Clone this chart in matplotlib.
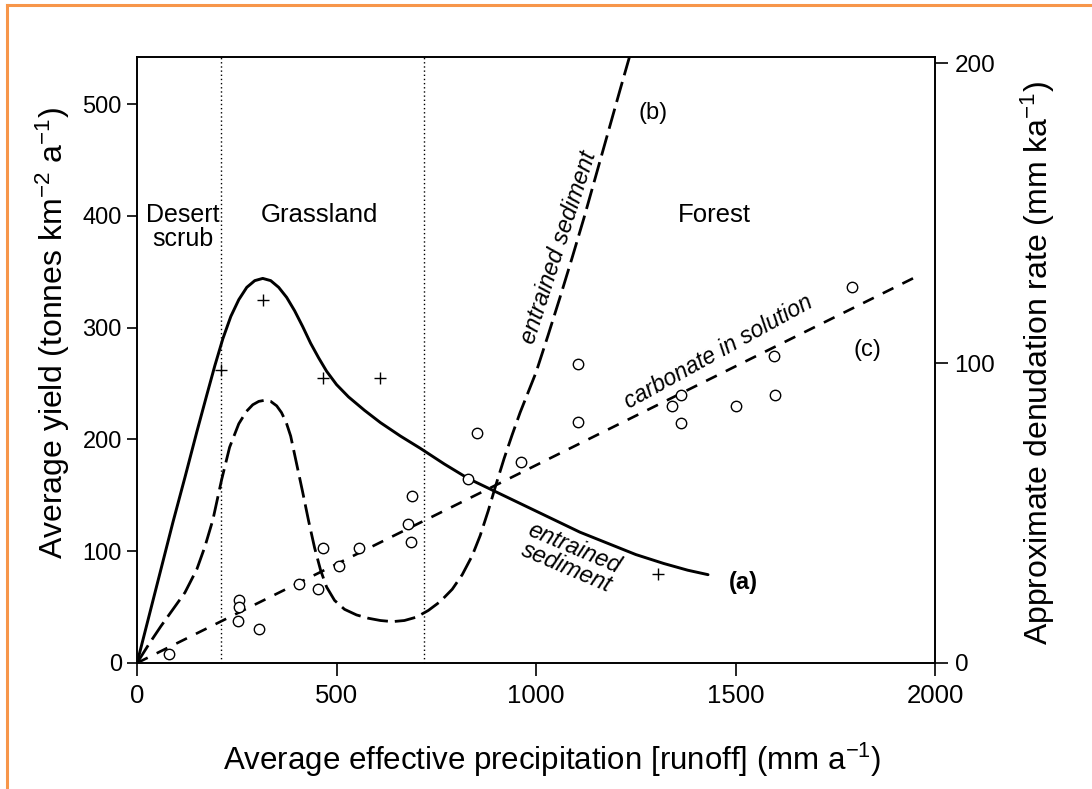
import numpy as np
import matplotlib.pyplot as plt
from matplotlib.lines import Line2D

plt.rcParams['font.family'] = ['Liberation Sans', 'DejaVu Sans']
plt.rcParams['mathtext.fontset'] = 'custom'
plt.rcParams['mathtext.rm'] = 'Liberation Sans'
plt.rcParams['mathtext.it'] = 'Liberation Sans:italic'

# curve (a): entrained sediment, solid
a_x = [0, 30, 60, 90, 120, 150, 175, 195, 215, 235, 255, 275, 295, 315, 335, 355, 375,
       395, 415, 435, 455, 475, 500, 530, 570, 610, 660, 710, 770, 830, 900, 970, 1040,
       1110, 1180, 1250, 1320, 1380, 1431]
a_y = [0, 42, 84, 126, 166, 207, 240, 266, 290, 310, 325, 336, 342, 344, 342, 336, 327,
       315, 301, 286, 273, 261, 249, 238, 226, 215, 203, 192, 178, 165, 153, 141, 129,
       117, 107, 97, 89, 83, 79]

# curve (b): entrained sediment, long dashes
b_x = [0, 30, 60, 90, 120, 150, 170, 190, 212, 232, 255, 274, 290, 305, 320, 335, 350,
       362, 374, 385, 400, 415, 430, 445, 460, 475, 495, 520, 550, 580, 610, 640, 670,
       700, 730, 760, 790, 815, 840, 860, 880, 900, 920, 940, 960, 980, 1000, 1030,
       1060, 1090, 1120, 1150, 1180, 1210, 1234]
b_y = [0, 17, 33, 48, 63, 84, 104, 128, 164, 193, 214, 225, 231, 234, 235, 234, 230,
       224, 215, 203, 178, 153, 127, 103, 83, 68, 56, 48, 43, 40, 38, 37, 38,
       41, 47, 55, 66, 79, 96, 114, 136, 160, 183, 204, 224, 242, 260, 293,
       327, 362, 398, 436, 474, 512, 542]

# line (c): carbonate in solution
c_x = [0, 1950]
c_y = [0, 345]

# crosses (sediment yield data)
plus_x = [210, 315, 465, 610, 1305]
plus_y = [262, 325, 255, 255, 80]

# circles (solute data)
circ_x = [80, 255, 255, 252, 305, 407, 454, 467, 507, 557, 679, 687, 689, 829, 851, 961,
          1106, 1106, 1341, 1363, 1363, 1500, 1596, 1598, 1793]
circ_y = [8, 56, 50, 38, 30, 71, 66, 103, 87, 103, 124, 108, 149, 165, 206, 180,
          267, 216, 230, 240, 215, 230, 275, 240, 336]

# vegetation boundaries
bounds = [210, 720]

fig = plt.figure(figsize=(10.92, 7.89), dpi=100)
ax = fig.add_axes([0.1255, 0.1597, 0.7308, 0.768])

for b in bounds:
    ax.axvline(b, color='black', lw=1, ls=(0, (1, 2)), zorder=1)

ax.plot(a_x, a_y, color='black', lw=2.1, solid_joinstyle='round', solid_capstyle='round',
        zorder=3)
ax.plot(b_x, b_y, color='black', lw=2.0, dashes=(7.5, 2.5), dash_joinstyle='round',
        zorder=3)
ax.plot(c_x, c_y, color='black', lw=1.9, dashes=(4.5, 3.8), zorder=3)

ax.plot(plus_x, plus_y, ls='none', marker='+', ms=9, mew=1.0, color='black', zorder=4)
ax.plot(circ_x, circ_y, ls='none', marker='o', ms=7.5, mew=1.0, mfc='white',
        mec='black', zorder=4)

ax.set_xlim(0, 2000)
ax.set_ylim(0, 542)
ax.set_xticks([0, 500, 1000, 1500, 2000])
ax.set_yticks([0, 100, 200, 300, 400, 500])
ax.tick_params(axis='x', direction='out', length=9, width=1.2, pad=6, labelsize=18.5)
ax.tick_params(axis='y', direction='out', length=7, width=1.2, pad=4, labelsize=17)
for s in ax.spines.values():
    s.set_linewidth(1.2)

ax2 = ax.twinx()
ax2.set_ylim(0, 202)
ax2.set_yticks([0, 100, 200])
ax2.tick_params(direction='out', length=9, width=1.2, labelsize=17.5, pad=5)
for s in ax2.spines.values():
    s.set_linewidth(1.2)

ax.set_xlabel('Average effective precipitation [runoff] (mm a$^{-1}$)', fontsize=22.5)
ax.xaxis.set_label_coords(0.52, -0.128)
ax.set_ylabel('Average yield (tonnes km$^{-2}$ a$^{-1}$)', fontsize=23)
ax.yaxis.set_label_coords(-0.081, 0.545)
ax2.set_ylabel('Approximate denudation rate (mm ka$^{-1}$)', fontsize=23)
ax2.yaxis.set_label_coords(1.105, 0.495)

# region labels
ax.text(115, 390, 'Desert\nscrub', fontsize=18, ha='center', va='center', linespacing=1.0)
ax.text(457, 401, 'Grassland', fontsize=18.5, ha='center', va='center')
ax.text(1448, 401, 'Forest', fontsize=18.5, ha='center', va='center')

# curve labels
ax.text(1293, 492, '(b)', fontsize=17, ha='center', va='center')
ax.text(1830, 280, '(c)', fontsize=17, ha='center', va='center')
ax.text(1520, 72, '(a)', fontsize=17, ha='center', va='center', fontweight='bold')
ax.text(1058, 372, 'entrained sediment', fontsize=17, style='italic', rotation=72,
        ha='center', va='center', rotation_mode='anchor')
ax.text(1456, 278, 'carbonate in solution', fontsize=16.5, style='italic', rotation=29,
        ha='center', va='center', rotation_mode='anchor')
ax.text(1086, 94, 'entrained\nsediment', fontsize=17, style='italic', rotation=-23,
        ha='center', va='center', rotation_mode='anchor', linespacing=0.9)

# orange frame (top and left edges)
orange = '#f7964a'
fig.add_artist(Line2D([7 / 1092, 7 / 1092], [0, 1 - 5 / 789], transform=fig.transFigure,
                      color=orange, lw=2.2))
fig.add_artist(Line2D([7 / 1092, 1], [1 - 5 / 789, 1 - 5 / 789], transform=fig.transFigure,
                      color=orange, lw=2.2))

fig.savefig('out.png', dpi=100)
